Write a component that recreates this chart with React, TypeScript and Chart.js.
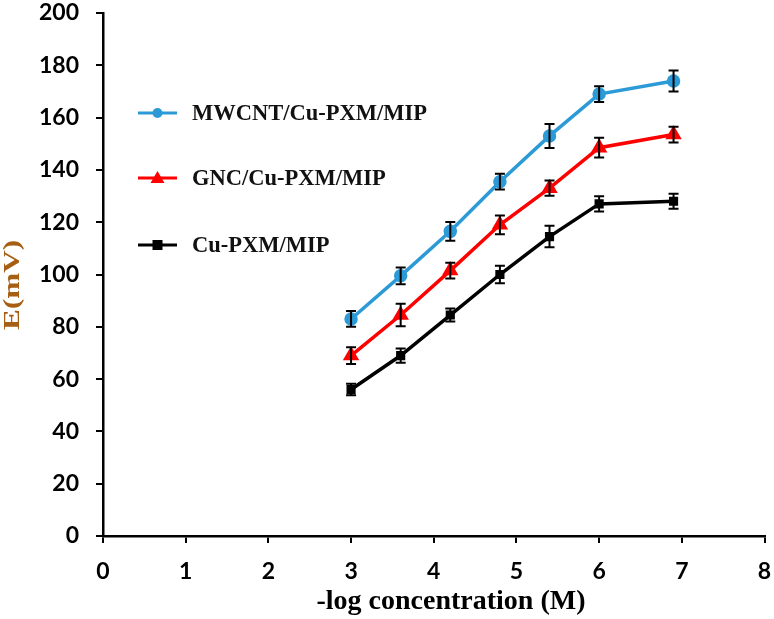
import React, { useEffect, useRef } from "react";
import { Chart, registerables } from "chart.js";

Chart.register(...registerables);

// -log concentration (M)
const xValues = [3, 3.6, 4.2, 4.8, 5.4, 6, 6.9];

const seriesNames = ["MWCNT/Cu-PXM/MIP", "GNC/Cu-PXM/MIP", "Cu-PXM/MIP"];

// E (mV)
const mwcntValues = [83, 99.5, 116.5, 135.5, 153, 169, 174];
const gncValues = [69, 84.5, 101.5, 119, 133, 148.5, 153.5];
const cuValues = [56, 69, 84.5, 100, 114.5, 127, 128];

// error bar half-widths (mV)
const mwcntErr = [3, 3.2, 3.6, 3, 4.6, 3, 4];
const gncErr = [3.2, 4.3, 3, 3.6, 2.9, 3.8, 3];
const cuErr = [2.2, 2.7, 2.5, 3.3, 4.1, 2.9, 2.9];

const xTicks = [0, 1, 2, 3, 4, 5, 6, 7, 8];
const yTicks = [0, 20, 40, 60, 80, 100, 120, 140, 160, 180, 200];

const xTitle = "-log concentration (M)";
const yTitle = "E(mV)";

const BLUE = "#2C9AD6";
const RED = "#FF0000";
const BLACK = "#000000";

const tickFont = { family: "Lato", size: 23, weight: "bold" as const };
const serif = "'Liberation Serif', 'Times New Roman', serif";

const errorBars = {
  id: "errorBars",
  afterDatasetsDraw(chart: any) {
    const { ctx } = chart;
    const xs = chart.scales.x;
    const ys = chart.scales.y;
    ctx.save();
    ctx.strokeStyle = "#000";
    ctx.lineWidth = 2;
    chart.data.datasets.forEach((ds: any) => {
      ds.data.forEach((p: any, i: number) => {
        const e = ds.errors[i];
        const px = xs.getPixelForValue(p.x);
        const top = ys.getPixelForValue(p.y + e);
        const bot = ys.getPixelForValue(p.y - e);
        ctx.beginPath();
        ctx.moveTo(px, top);
        ctx.lineTo(px, bot);
        ctx.moveTo(px - 5, top);
        ctx.lineTo(px + 5, top);
        ctx.moveTo(px - 5, bot);
        ctx.lineTo(px + 5, bot);
        ctx.stroke();
      });
    });
    ctx.restore();
  },
};

// legend inside the plot (upper left) and both axis titles
const insideLegend = {
  id: "insideLegend",
  afterDraw(chart: any) {
    const { ctx } = chart;
    const rows = [113, 178, 245];
    ctx.save();
    chart.data.datasets.forEach((ds: any, i: number) => {
      const y = rows[i];
      ctx.strokeStyle = ds.borderColor;
      ctx.fillStyle = ds.borderColor;
      ctx.lineWidth = 3;
      ctx.beginPath();
      ctx.moveTo(138, y);
      ctx.lineTo(177, y);
      ctx.stroke();
      const cx = 157.5;
      ctx.beginPath();
      if (ds.pointStyle === "circle") {
        ctx.arc(cx, y, 5, 0, Math.PI * 2);
      } else if (ds.pointStyle === "triangle") {
        ctx.moveTo(cx, y - 7);
        ctx.lineTo(cx + 7, y + 5);
        ctx.lineTo(cx - 7, y + 5);
        ctx.closePath();
      } else {
        ctx.rect(cx - 5, y - 5, 10, 10);
      }
      ctx.fill();
      ctx.fillStyle = "#111";
      ctx.font = `bold 22.5px ${serif}`;
      ctx.textBaseline = "middle";
      ctx.textAlign = "left";
      ctx.fillText(ds.label, 192, y + 1);
    });

    ctx.fillStyle = "#000";
    ctx.font = `bold 28px ${serif}`;
    ctx.textAlign = "center";
    ctx.textBaseline = "middle";
    ctx.fillText(xTitle, 451, 602);

    ctx.translate(13, 285);
    ctx.rotate(-Math.PI / 2);
    ctx.scale(1.3, 1);
    ctx.font = `bold 24px ${serif}`;
    ctx.fillStyle = "#A65F12";
    ctx.fillText(yTitle, 0, 0);
    ctx.restore();
  },
};

function toPoints(ys: number[]) {
  return xValues.map((x, i) => ({ x, y: ys[i] }));
}

export default function App() {
  const canvasRef = useRef<HTMLCanvasElement>(null);
  const chartRef = useRef<Chart | null>(null);

  useEffect(() => {
    const canvas = canvasRef.current;
    if (!canvas) return;
    const ctx = canvas.getContext("2d");
    if (!ctx) return;

    if (chartRef.current) chartRef.current.destroy();

    chartRef.current = new Chart(ctx, {
      type: "line",
      data: {
        datasets: [
          {
            label: seriesNames[0],
            data: toPoints(mwcntValues),
            errors: mwcntErr,
            borderColor: BLUE,
            backgroundColor: BLUE,
            borderWidth: 3.5,
            pointStyle: "circle",
            pointRadius: 5,
          } as any,
          {
            label: seriesNames[1],
            data: toPoints(gncValues),
            errors: gncErr,
            borderColor: RED,
            backgroundColor: RED,
            borderWidth: 3.5,
            pointStyle: "triangle",
            pointRadius: 6,
          } as any,
          {
            label: seriesNames[2],
            data: toPoints(cuValues),
            errors: cuErr,
            borderColor: BLACK,
            backgroundColor: BLACK,
            borderWidth: 3.5,
            pointStyle: "rect",
            pointRadius: 4,
          } as any,
        ],
      },
      options: {
        responsive: false,
        animation: false,
        layout: { padding: { top: 13, right: 8, bottom: 0, left: 0 } },
        plugins: {
          legend: { display: false },
          tooltip: { enabled: false },
        },
        scales: {
          x: {
            type: "linear",
            min: 0,
            max: 8,
            afterBuildTicks: (s: any) => {
              s.ticks = xTicks.map((v) => ({ value: v }));
            },
            afterFit: (s: any) => {
              s.height = 619 - 536;
              s.paddingLeft = 0;
              s.paddingRight = 0;
            },
            grid: {
              drawOnChartArea: false,
              drawTicks: true,
              tickLength: 7,
              color: "#000",
              lineWidth: 2,
            },
            border: { display: true, color: "#000", width: 2.5 },
            ticks: { color: "#000", font: tickFont, padding: 15 },
          },
          y: {
            type: "linear",
            min: 0,
            max: 200,
            afterBuildTicks: (s: any) => {
              s.ticks = yTicks.map((v) => ({ value: v }));
            },
            afterFit: (s: any) => {
              s.width = 103;
              s.paddingTop = 0;
              s.paddingBottom = 0;
            },
            grid: {
              drawOnChartArea: false,
              drawTicks: true,
              tickLength: 7,
              color: "#000",
              lineWidth: 2,
            },
            border: { display: true, color: "#000", width: 2.5 },
            ticks: { color: "#000", font: tickFont, padding: 17 },
          },
        },
      } as any,
      plugins: [errorBars, insideLegend],
    });

    return () => {
      chartRef.current?.destroy();
      chartRef.current = null;
    };
  }, []);

  return (
    <div style={{ position: "absolute", left: 0, top: 0, width: 774, height: 619, background: "#fff" }}>
      <canvas ref={canvasRef} width={774} height={619} />
    </div>
  );
}
